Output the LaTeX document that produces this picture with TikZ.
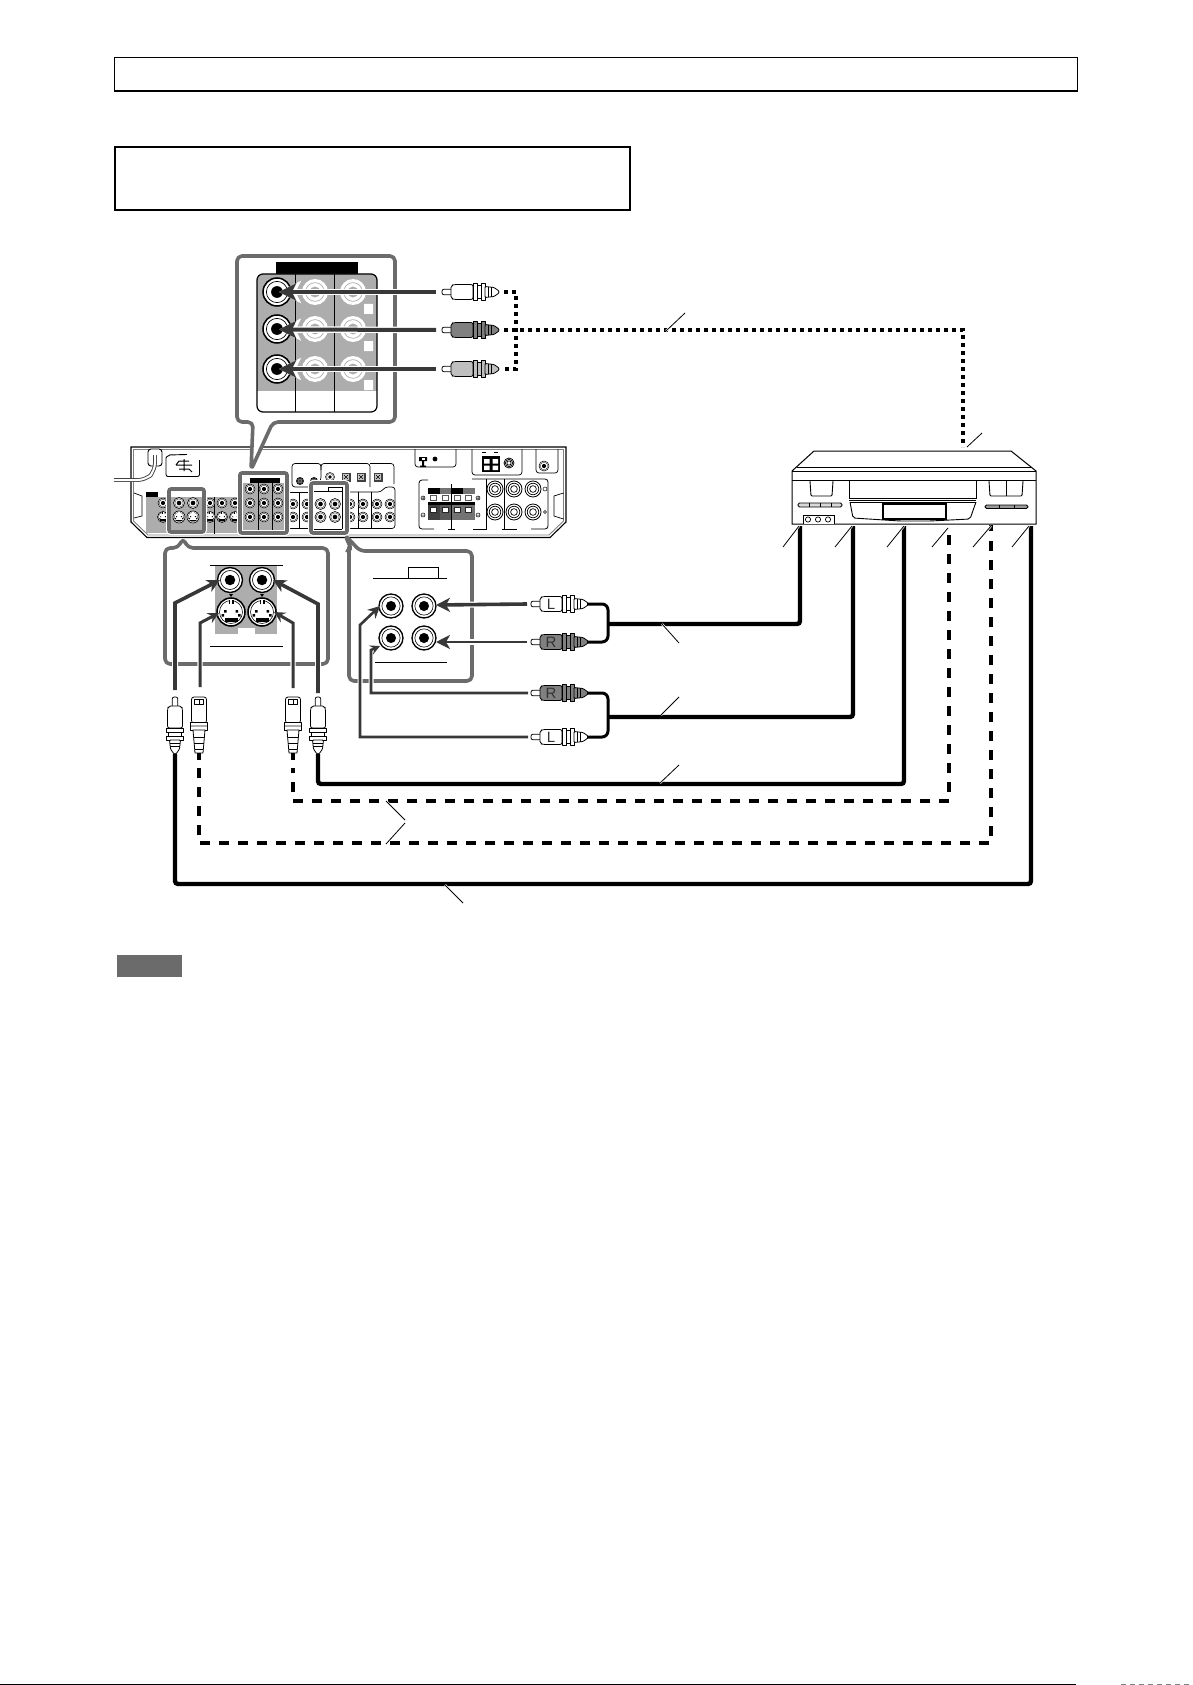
\documentclass[tikz,border=0pt]{standalone}
\usepackage{fontspec}
\setmainfont{Liberation Sans}
\usetikzlibrary{arrows.meta}
\definecolor{callgray}{gray}{0.42}
\definecolor{panelgray}{gray}{0.68}
\definecolor{darkline}{gray}{0.22}
\tikzset{
  x=1pt,y=-1pt,
  callout/.style={draw=callgray,line width=3.6pt,rounded corners=5pt,line join=round},
  hilite/.style={draw=callgray,line width=3.6pt,rounded corners=2pt,fill=white,preaction={draw=white,line width=6pt}},
  thinline/.style={draw=black,line width=0.9pt},
  leader/.style={draw=black,line width=0.8pt},
  solidcable/.style={draw=black,line width=4.4pt,rounded corners=3pt},
  loomcable/.style={draw=black,line width=3pt,rounded corners=6pt},
  dashcable/.style={draw=black,line width=4.4pt,dash pattern=on 10pt off 9pt},
  dotcable/.style={draw=black,line width=4pt,dash pattern=on 4pt off 4pt},
  plugpart/.style={draw=black,line width=0.8pt,line join=round},
  plugtext/.style={font=\fontsize{15}{15}\selectfont,inner sep=0pt,text=black!80},
}
\newcommand{\rcaplug}[4]{% x, y, fill, rotation; origin at the tip, body along +x
\begin{scope}[shift={(#1,#2)},rotate=#4]
  \draw[plugpart,fill=white,rounded corners=2pt] (0,-2.8) rectangle (11,2.8);
  \draw[plugpart,fill=#3,rounded corners=2pt] (9,-6.5) -- (12,-7.5) -- (31,-7.5) -- (31,7.5) -- (12,7.5) -- (9,6.5) -- cycle;
  \draw[plugpart,fill=#3] (35,-6.5) rectangle (39,6.5);
  \draw[plugpart,fill=#3] (31,-8.5) rectangle (35,8.5);
  \draw[plugpart,fill=#3] (39,-8.5) rectangle (43,8.5);
  \draw[plugpart,fill=#3,rounded corners=1pt] (43,-5.5) -- (52,-4.5) -- (57,-1) -- (57,1) -- (52,4.5) -- (43,5.5) -- cycle;
  \draw[plugpart] (46.5,-5) -- (46.5,5) (49.5,-4.7) -- (49.5,4.7);
\end{scope}}
\newcommand{\splug}[2]{% x, y of the top of a vertical S plug
\begin{scope}[shift={(#1,#2)}]
  \draw[plugpart,fill=white,rounded corners=2.5pt] (-7.5,0) rectangle (7.5,26);
  \draw[plugpart,fill=white] (-4.5,2.5) rectangle (4.5,7.5) (0,2.5) -- (0,7.5);
  \draw[plugpart,fill=white] (-8.5,25) rectangle (8.5,33);
  \fill[panelgray] (-8,27.5) rectangle (8,29.5);
  \draw[plugpart,fill=white] (-6,33) -- (6,33) -- (4,56) -- (-4,56) -- cycle;
  \draw[plugpart] (-5.4,40) -- (5.4,40) (-4.9,46) -- (4.9,46) (-4.4,52) -- (4.4,52);
\end{scope}}
\newcommand{\bjack}[3]{% active RCA jack: x,y,r
  \draw[black,line width=#3*0.11pt,fill=white] (#1,#2) circle (#3);
  \draw[black,line width=#3*0.05pt] (#1,#2) circle (#3*0.76);
  \fill[black] (#1,#2) circle (#3*0.42);
}
\newcommand{\gjack}[3]{% pale jack on a gray panel
  \fill[white] (#1,#2) circle (#3);
  \draw[panelgray,line width=0.7pt] (#1,#2) circle (#3*0.72);
  \fill[panelgray] (#1,#2) circle (#3*0.42);
}
\newcommand{\ringjack}[3]{% open ring jack
  \draw[black,line width=0.8pt,fill=white] (#1,#2) circle (#3);
  \draw[black,line width=0.7pt] (#1,#2) circle (#3*0.72);
  \draw[black,line width=0.7pt] (#1,#2) circle (#3*0.42);
}
\newcommand{\sjack}[3]{% S-video jack: x,y,r
\begin{scope}[shift={(#1,#2)},scale=#3/14]
  \draw[black,line width=#3*0.11pt,fill=white] (0,0) circle (14);
  \draw[black,line width=#3*0.04pt] (0,0) circle (11.5);
  \fill[black] (-2.5,-12) rectangle (2.5,-8);
  \fill[white] (-1.2,-12) rectangle (1.2,-8);
  \fill[black] (-7,-2) rectangle (-4.5,0.5) (4.5,-2) rectangle (7,0.5);
  \fill[black] (-9.5,2) rectangle (-7,4.5) (7,2) rectangle (9.5,4.5);
  \fill[black] (-6.5,6) rectangle (6.5,10);
\end{scope}}
\newcommand{\feed}[3]{% width, tip size, path
  \draw[white,line width=#1pt+2.4pt,line join=miter,-{Stealth[length=#2pt,width=#2pt,inset=4pt,scale=1.28]}] #3;
  \draw[darkline,line width=#1pt,line join=miter,-{Stealth[length=#2pt,width=#2pt,inset=4pt]}] #3;
}
\begin{document}
\begin{tikzpicture}
\useasboundingbox (0,0) rectangle (1192,1685);
\fill[white] (0,0) rectangle (1192,1685);

% ---------- title frames ----------
\node[draw=black,line width=1.1pt,minimum width=963pt,minimum height=33.5pt,inner sep=0pt,anchor=north west] (headerbox) at (114,57) {};
\node[draw=black,line width=2pt,minimum width=514.5pt,minimum height=63pt,inner sep=0pt,anchor=north west] (titlebox) at (114,146.5) {};
\node[fill=callgray,minimum width=65pt,minimum height=22pt,inner sep=0pt,anchor=north west] (notesbar) at (117,955) {};
\draw[black,line width=1.3pt] (0,1684.3) -- (1076,1684.3);
\draw[gray,line width=1.3pt,dash pattern=on 5pt off 4pt] (1121,1684.3) -- (1192,1684.3);

% ---------- rear panel of receiver ----------
\draw[black,line width=1.1pt,fill=white] (131,447) -- (566,447) -- (566,522) -- (550,537.5) -- (147,537.5) -- (131,522) -- cycle;
\draw[gray,line width=0.9pt] (133.5,449.5) -- (563.5,449.5) -- (563.5,521) -- (549,535) -- (148,535) -- (133.5,521) -- cycle;
\draw[thinline,line width=0.7pt] (134,493) -- (142,496) -- (142,516) -- (134,518);
\draw[thinline,line width=0.7pt] (563.5,493) -- (554,496) -- (554,516) -- (563.5,519);
% power cord
\draw[black,line width=0.9pt,fill=white,rounded corners=3pt] (148,449) rectangle (162,466);
\draw[black!75,line width=3.8pt,rounded corners=8pt] (114,480) -- (146,480) -- (155,471) -- (155,455);
\draw[white,line width=2pt,rounded corners=8pt] (114,480) -- (146,480) -- (155,471) -- (155,455);
% fan box
\draw[thinline,rounded corners=2pt] (166,458) -- (166,476.5) -- (199.5,476.5) -- (199.5,460);
\draw[thinline,rounded corners=2pt] (166,458) -- (168,455) -- (187,454.5);
\draw[black,line width=1pt] (176,465) -- (192,465) (184,459) -- (184,471) (179,461) -- (189,461) (179,469) -- (189,469) (176,465) -- (179,461) (189,469) -- (192,472);
% rear top groups
\draw[thinline,line width=0.7pt,rounded corners=3pt] (415,449) -- (415,467) -- (456,467) -- (456,449);
\fill[black] (419,457) rectangle (427,461) (422,461) rectangle (424,466) (420,465.5) rectangle (426,467);
\fill[white] (421.5,458) rectangle (424.5,460);
\fill[black] (435,459) circle (2.4);
\draw[thinline,line width=0.7pt,rounded corners=3pt] (472,449) -- (472,475) -- (522,475) -- (522,449);
\fill[black] (481.5,456) rectangle (500,472);
\fill[white] (484,459) rectangle (489.5,463.5) (492.5,459) rectangle (498,463.5) (484,465.5) rectangle (489.5,470) (492.5,465.5) rectangle (498,470);
\draw[black,line width=0.6pt] (482,452) -- (486,452) (494,452) -- (498,452);
\ringjack{509}{463}{5}
\draw[thinline,line width=0.7pt,rounded corners=3pt] (536,449) -- (536,473) -- (558,473) -- (558,449);
\bjack{544}{466}{5}
% digital input groups
\draw[thinline,line width=0.7pt,rounded corners=3pt] (292,487) -- (292,463.5) -- (321,463.5) -- (321,480) -- (316,487) -- cycle;
\draw[thinline,line width=0.7pt,rounded corners=3pt] (321,470) -- (321,463.5) -- (370,463.5) -- (370,487);
\draw[thinline,line width=0.7pt,rounded corners=3pt] (370,463.5) -- (394,463.5) -- (394,484);
\ringjack{300}{481}{3.5}
\ringjack{314}{481}{3.5}
\bjack{330}{477}{4.5}
\foreach \sx/\sy in {346/477,361/477,378/477}{
  \fill[black!75] (\sx-4.5,\sy-4.5) rectangle (\sx+4.5,\sy+4.5);
  \fill[black!22] (\sx-3.2,\sy-3.2) rectangle (\sx+3.2,\sy+3.2);
  \draw[black,line width=0.5pt] (\sx-2,\sy-2) -- (\sx+2,\sy+2) (\sx-2,\sy+2) -- (\sx+2,\sy-2);
}
% video/left gray panel
\fill[black] (146,492) rectangle (158,497);
\fill[panelgray] (146,497) rectangle (238,532.5);
\draw[thinline,line width=0.7pt] (214,497) -- (214,534);
\bjack{163}{503}{5}\sjack{163}{517}{5.5}
\bjack{210}{503}{5}\sjack{210}{517}{5.5}
\bjack{222}{503}{5}\sjack{222}{517}{5.5}
\bjack{235}{503}{5}\sjack{235}{517}{5.5}
% analog jack block right of center
\draw[thinline,line width=0.7pt,rounded corners=3pt] (287,528.5) -- (395,528.5) -- (395,487) -- (385,487) -- (381,492) -- (342,492);
\draw[thinline,line width=0.7pt] (299,492) -- (299,528) (358,492) -- (358,528) (371,492) -- (371,528) (284,492) -- (340,492);
\bjack{293}{504}{5}\bjack{293}{517}{5}
\bjack{307}{504}{5}\bjack{307}{517}{5}
\bjack{350}{504}{5}\bjack{350}{517}{5}
\bjack{363}{504}{5}\bjack{363}{517}{5}
\bjack{377}{504}{5}\bjack{377}{517}{5}
\bjack{390}{504}{5}\bjack{390}{517}{5}
% highlighted groups on the receiver
\draw[hilite] (169,489) rectangle (204,532);
\fill[panelgray] (171,497) rectangle (202,530);
\bjack{179}{503}{5.5}\bjack{193}{503}{5.5}
\sjack{179}{517}{6}\sjack{193}{517}{6}
\draw[hilite] (240,473) rectangle (287,533);
\fill[black] (250,478) rectangle (280,483);
\fill[panelgray] (243,483) rectangle (284,530);
\draw[thinline,line width=0.7pt] (258,483) -- (258,530) (272,483) -- (272,530);
\foreach \jx in {250,264,278}{\foreach \jy in {489,503,517}{\bjack{\jx}{\jy}{5}}}
\draw[hilite] (311,483) rectangle (347,533);
\draw[black,line width=0.7pt] (314,491.7) -- (342,491.7) (328,491.7) -- (328,487) -- (342,487) -- (342,529);
\draw[black,line width=0.6pt] (314,529) -- (342,529);
\bjack{320.5}{504}{5.5}\bjack{335}{504}{5.5}
\bjack{320.5}{517}{5.5}\bjack{335}{517}{5.5}
% speaker terminals
\draw[thinline,line width=0.8pt,rounded corners=3pt] (428,480) -- (419,480) -- (419,529) -- (434,529);
\draw[thinline,line width=0.8pt,rounded corners=3pt] (472,479) -- (548,479) -- (548,529) -- (531,529);
\draw[thinline,line width=0.8pt] (448,529) -- (455,529) (473,529) -- (487,529) (502,529) -- (517,529);
\draw[thinline,line width=0.8pt] (486,479) -- (486,529) (504,479) -- (504,529);
\foreach \tx/\capc/\lowc in {428/black/black!75,440/black!55/black!65,452/black/black!55,463/black!55/black!55}{
  \fill[\capc] (\tx,488) rectangle (\tx+11.5,494);
  \fill[white] (\tx,494) rectangle (\tx+11.5,502);
  \fill[\lowc] (\tx,505) rectangle (\tx+11.5,520);
  \fill[black!65] (\tx+2,495) rectangle (\tx+9,501);
  \fill[white] (\tx+3.2,496.2) rectangle (\tx+7.8,499.8);
  \fill[black!85] (\tx+2,507) rectangle (\tx+9,513);
  \fill[white] (\tx+3.2,508.2) rectangle (\tx+7.8,511.8);
}
\fill[black] (428,502) rectangle (474.5,505);
\draw[white,line width=0.8pt] (451.5,488) -- (451.5,520);
\draw[black,line width=0.8pt] (451.5,484) -- (451.5,529);
\foreach \cx in {423,478}{
  \draw[black,line width=0.5pt] (\cx,498) circle (2) (\cx-1.2,498) -- (\cx+1.2,498) (\cx,496.8) -- (\cx,499.2);
  \draw[black,line width=0.5pt] (\cx,515) circle (2) (\cx-1.2,515) -- (\cx+1.2,515);
}
\foreach \jx in {495,514,533}{\foreach \jy in {489,512}{\ringjack{\jx}{\jy}{8}}}
\draw[black,line width=0.5pt] (545,489) circle (2) (545,512) circle (1.5);

% ---------- top callout ----------
\draw[callout,fill=white] (237,256) -- (395,256) -- (395,422) -- (273,422) -- (251,470) -- (253,422) -- (237,422) -- cycle;
\fill[black] (276,262) rectangle (358,274);
\fill[panelgray,rounded corners=5pt] (257,274) rectangle (377,395);
\fill[white] (257,391) rectangle (377,408);
\draw[black,line width=1.2pt,rounded corners=6pt] (257,274) rectangle (377,412);
\draw[black,line width=0.8pt] (295,274) -- (295,412) (334,274) -- (334,412);
\fill[white] (364,304) rectangle (373,314) (364,341) rectangle (373,351) (364,380) rectangle (373,390);
\foreach \jy in {292,329,369}{
  \gjack{315}{\jy}{13}
  \gjack{353}{\jy}{13}
  \bjack{277}{\jy}{14}
}
\coordinate (vidJackA) at (279,292);
\coordinate (vidJackB) at (279,329.5);
\coordinate (vidJackC) at (279,369);
\coordinate (plugAend) at (436,292);
\coordinate (plugBend) at (436,330);
\coordinate (plugCend) at (436,369);
\feed{4}{17}{(plugAend) -- (vidJackA)}
\feed{4}{17}{(plugBend) -- (vidJackB)}
\feed{4}{17}{(plugCend) -- (vidJackC)}
\rcaplug{442}{292}{white}{0}
\rcaplug{442}{330}{gray}{0}
\rcaplug{442}{369}{black!25}{0}
\coordinate (plugAtail) at (504,292);
\coordinate (plugBtail) at (504,330);
\coordinate (plugCtail) at (504,369);
\coordinate (vcrIn) at (963,447);
\draw[dotcable] (plugAtail) -- (516,292) -- (516,369) -- (plugCtail);
\draw[dotcable] (plugBtail) -- (963,330) -- (vcrIn);

% ---------- left callout ----------
\draw[callout,fill=white] (165,548) -- (178,548) -- (183,538) -- (188,548) -- (328,548) -- (328,664) -- (165,664) -- cycle;
\fill[panelgray] (215,565) rectangle (277,634);
\fill[white] (238,628) rectangle (255,634);
\draw[black,line width=1pt] (210,565) -- (283,565) (210,646) -- (283,646);
\bjack{230}{580}{12.5}\bjack{262}{580}{12.5}
\sjack{231}{612}{14}\sjack{262}{612}{14}
\fill[black] (229,594) -- (233,594) -- (231,597) -- cycle (260,594) -- (264,594) -- (262,597) -- cycle;

% ---------- right callout ----------
\draw[callout,fill=white] (349,552) .. controls (349,551) and (349,551) .. (352,551) -- (345,535) -- (360,551) -- (472,551) -- (472,681) -- (349,681) -- cycle;
\draw[black,line width=1pt] (373,578) -- (447,578) (375,662) -- (447,662);
\draw[black,line width=1pt] (408,578) -- (408,567) -- (438,567) -- (438,578);
\bjack{391}{606}{12}\bjack{424}{606}{12}
\bjack{391}{638}{12}\bjack{424}{638}{12}

% ---------- VCR ----------
\draw[black,line width=1pt,fill=white] (814,451) -- (1011,451) -- (1036,471) -- (1036,524) -- (792,524) -- (792,471) -- cycle;
\draw[black,line width=0.9pt] (797,467) -- (1031,467) (792,471) -- (1036,471) (792,480.5) -- (1036,480.5);
\draw[black,line width=0.9pt,rounded corners=1pt] (810,481) -- (811,496) -- (832,496) -- (833,481);
\draw[black,line width=0.9pt] (849,480.5) -- (849,498) -- (976,498) -- (976,480.5) (849,500) -- (976,500);
\draw[black,line width=0.9pt,rounded corners=2pt] (850,502) -- (853,518) -- (900,521) -- (930,521) -- (970,519) -- (976,502);
\draw[black,line width=0.9pt] (850,502) -- (976,502);
\draw[black,line width=2pt,fill=white] (883,504) rectangle (946,519);
\draw[black,line width=0.9pt,rounded corners=1pt] (989,481) -- (990,496) -- (1022,496) -- (1023,481) (1006.5,481) -- (1006.5,496);
\draw[black,line width=0.8pt,fill=black!15,rounded corners=1.5pt] (798,503) rectangle (842,507);
\draw[black,line width=0.7pt] (809,503) -- (809,507) (820,503) -- (820,507) (831,503) -- (831,507);
\draw[black,line width=0.8pt,fill=black!40,rounded corners=1.5pt] (985,505) rectangle (1028,508.5);
\draw[black,line width=0.7pt] (999,505) -- (999,508.5) (1014,505) -- (1014,508.5);
\draw[black,line width=1pt,fill=white] (803,524) -- (803,515) -- (834,515) -- (834,524);
\foreach \vx in {808,818,828}{\draw[black,line width=0.7pt] (\vx,519.5) circle (2.6);}
\coordinate (vcrA) at (800,526);
\coordinate (vcrB) at (853,526);
\coordinate (vcrC) at (904,526);
\coordinate (vcrD) at (949,535);
\coordinate (vcrE) at (991,541);
\coordinate (vcrEtop) at (991,525);
\coordinate (vcrEend) at (991,531);
\coordinate (vcrF) at (1031,526);

% ---------- connectors into receiver callouts ----------
\coordinate (vidTL) at (220,580);
\coordinate (vidTR) at (273,580);
\coordinate (sTL) at (219,613);
\coordinate (sTR) at (274,612);
\feed{3.6}{13}{(175,690) -- (175,603) -- (vidTL)}
\feed{3}{11}{(200,687) -- (200,623) -- (sTL)}
\feed{3}{11}{(293,688) -- (293,623) -- (sTR)}
\feed{3.6}{13}{(318,693) -- (318,604) -- (vidTR)}
\coordinate (aJ1) at (436,605);
\coordinate (aJ2) at (436,642);
\coordinate (aJ3) at (380,646);
\coordinate (aJ4) at (380,606);
\feed{3.6}{14}{(527,604) -- (aJ1)}
\feed{2.8}{14}{(527,642) -- (aJ2)}
\feed{2.6}{10}{(528,693) -- (371,693) -- (371,650) -- (aJ3)}
\feed{2.6}{12}{(528,737) -- (360,737) -- (360,625) -- (aJ4)}

% ---------- plugs ----------
\rcaplug{531}{604}{white}{0}
\rcaplug{531}{642}{gray}{0}
\rcaplug{531}{693}{gray}{0}
\rcaplug{531}{737}{white}{0}
\node[plugtext] (lblLa) at (551,604.5) {L};
\node[plugtext] (lblRa) at (551,642.5) {R};
\node[plugtext] (lblRb) at (551,693.5) {R};
\node[plugtext] (lblLb) at (551,737.5) {L};
\rcaplug{175}{697}{white}{-90}
\rcaplug{318}{697}{white}{-90}
\splug{199}{697}
\splug{293}{697}

% ---------- cables ----------
\coordinate (pLa) at (587,604);
\coordinate (pRa) at (587,642);
\coordinate (pRb) at (587,693);
\coordinate (pLb) at (587,737);
\coordinate (joinA) at (608,624);
\coordinate (joinB) at (608,717);
\draw[loomcable] (pLa) -- (608,604) -- (608,642) -- (pRa);
\draw[loomcable] (pRb) -- (608,693) -- (608,737) -- (pLb);
\draw[solidcable] (joinA) -- (800,624) -- (vcrA);
\draw[solidcable] (joinB) -- (853,717) -- (vcrB);
\draw[solidcable] (318,754) -- (318,784) -- (904,784) -- (vcrC);
\draw[solidcable] (175,754) -- (175,884) -- (1031,884) -- (vcrF);
\coordinate (sA) at (293,768);
\coordinate (sB) at (199,768);
\coordinate (sAtop) at (293,753);
\coordinate (sAend) at (293,760);
\coordinate (sBtop) at (199,753);
\coordinate (sBend) at (199,760);
\draw[dashcable] (vcrD) -- (949,801) -- (293,801) -- (sA);
\draw[dashcable] (vcrE) -- (991,843) -- (199,843) -- (sB);
\draw[black,line width=4.4pt] (vcrEtop) -- (vcrEend);
\draw[black,line width=4.4pt] (sAtop) -- (sAend);
\draw[black,line width=4.4pt] (sBtop) -- (sBend);

% ---------- leader lines ----------
\foreach \ax/\ay/\bx/\by in {
  666/331/685/313, 967/447/982/433,
  783/547/799/526, 835/547/852/526, 887/547/904/526,
  932/547/948/528, 973/547/991/526, 1012/547/1029/526,
  662/624/679/643, 661/715/679/697, 660/783/679/765,
  386/801/405/820, 386/844/405/823, 445/885/463/903}{
  \draw[white,line width=2.2pt] (\ax,\ay) -- (\bx,\by);
  \draw[leader] (\ax,\ay) -- (\bx,\by);
}
\end{tikzpicture}
\end{document}
